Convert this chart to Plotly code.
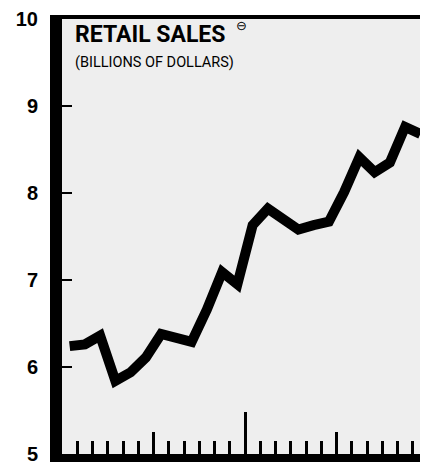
import plotly.graph_objects as go

# Monthly retail sales, two years (billions of dollars)
months = list(range(24))
sales = [6.24, 6.26, 6.36, 5.84, 5.94, 6.11, 6.38, 6.32, 6.29, 6.66, 7.09, 6.95,
         7.63, 7.82, 7.71, 7.58, 7.63, 7.67, 8.01, 8.41, 8.24, 8.35, 8.76, 8.68]

y_ticks = [5, 6, 7, 8, 9, 10]
y_labels = ["5", "6", "7", "8", "9", "10"]
month_bounds = [m - 0.5 for m in range(25)]
half_year_bounds = [5.5, 17.5]
year_bounds = [11.5]

title = "RETAIL SALES"
title_mark = "⊖"
subtitle = "(BILLIONS OF DOLLARS)"

xr = [-0.5, 23.5]
yr = [5, 10]

fig = go.Figure()
fig.add_trace(go.Scatter(x=months, y=sales, mode="lines",
                         line=dict(color="black", width=10),
                         showlegend=False, hoverinfo="skip"))

axis_font = dict(family="Liberation Sans, Arial, sans-serif", size=20, color="black", weight="bold")
title_family = "Roboto, Liberation Sans, sans-serif"

fig.update_layout(
    width=420, height=457,
    margin=dict(l=54, r=0, t=6, b=9),
    paper_bgcolor="white",
    plot_bgcolor="#eeeeee",
    xaxis=dict(range=xr, showgrid=False, zeroline=False, showline=True, linewidth=8,
               linecolor="black", ticks="inside", tickvals=month_bounds, ticklen=13,
               tickwidth=3, tickcolor="black", showticklabels=False, fixedrange=True),
    xaxis2=dict(range=xr, overlaying="x", side="bottom", showgrid=False, zeroline=False,
                showline=False, ticks="inside", tickvals=half_year_bounds, ticklen=22,
                tickwidth=3, tickcolor="black", showticklabels=False),
    xaxis3=dict(range=xr, overlaying="x", side="bottom", showgrid=False, zeroline=False,
                showline=False, ticks="inside", tickvals=year_bounds, ticklen=42,
                tickwidth=3, tickcolor="black", showticklabels=False),
    xaxis4=dict(range=xr, overlaying="x", side="top", showgrid=False, zeroline=False,
                showline=True, linewidth=4, linecolor="black", ticks="",
                showticklabels=False),
    yaxis=dict(range=yr, showgrid=False, zeroline=False, showline=True, linewidth=12,
               linecolor="black", ticks="inside", tickvals=y_ticks, ticktext=y_labels,
               ticklen=10, tickwidth=2, tickcolor="black", tickfont=axis_font,
               ticklabelstandoff=8, ticklabeloverflow="allow"),
    yaxis2=dict(range=yr, overlaying="y", side="right", showgrid=False, zeroline=False,
                showline=False, ticks="inside", tickvals=[6, 7, 8, 9], ticklen=8,
                tickwidth=2, tickcolor="black", showticklabels=False),
)

# invisible traces to activate the extra axes
for xa in ["x2", "x3", "x4"]:
    fig.add_trace(go.Scatter(x=[None], y=[None], xaxis=xa, yaxis="y",
                             showlegend=False, hoverinfo="skip"))
fig.add_trace(go.Scatter(x=[None], y=[None], xaxis="x", yaxis="y2",
                         showlegend=False, hoverinfo="skip"))

fig.add_annotation(text=title, xref="paper", yref="paper", x=0, y=1,
                   xanchor="left", yanchor="top", xshift=11, yshift=0,
                   showarrow=False,
                   font=dict(family=title_family, size=23, color="black", weight="bold"))
fig.add_annotation(text=title_mark, xref="paper", yref="paper", x=0, y=1,
                   xanchor="left", yanchor="top", xshift=172, yshift=3,
                   showarrow=False,
                   font=dict(family="DejaVu Sans, sans-serif", size=13, color="black"))
fig.add_annotation(text=subtitle, xref="paper", yref="paper", x=0, y=1,
                   xanchor="left", yanchor="top", xshift=11, yshift=-33,
                   showarrow=False,
                   font=dict(family=title_family, size=14.5, color="black"))

fig.write_html("out.html")
